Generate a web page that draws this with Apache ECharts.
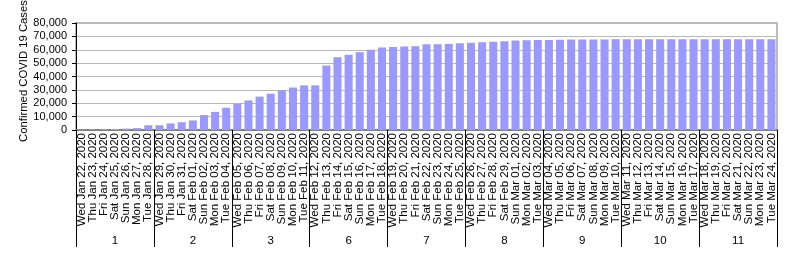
<!DOCTYPE html>
<html>
<head>
<meta charset="utf-8">
<script src="https://cdn.jsdelivr.net/npm/echarts@6/dist/echarts.min.js"></script>
<style>
html,body{margin:0;padding:0;background:#fff;}
#chart{width:800px;height:262px;}
</style>
</head>
<body>
<div id="chart"></div>
<script>
var dates = [
"Wed Jan 22, 2020","Thu Jan 23, 2020","Fri Jan 24, 2020","Sat Jan 25, 2020","Sun Jan 26, 2020","Mon Jan 27, 2020","Tue Jan 28, 2020",
"Wed Jan 29, 2020","Thu Jan 30, 2020","Fri Jan 31, 2020","Sat Feb 01, 2020","Sun Feb 02, 2020","Mon Feb 03, 2020","Tue Feb 04, 2020",
"Wed Feb 05, 2020","Thu Feb 06, 2020","Fri Feb 07, 2020","Sat Feb 08, 2020","Sun Feb 09, 2020","Mon Feb 10, 2020","Tue Feb 11, 2020",
"Wed Feb 12, 2020","Thu Feb 13, 2020","Fri Feb 14, 2020","Sat Feb 15, 2020","Sun Feb 16, 2020","Mon Feb 17, 2020","Tue Feb 18, 2020",
"Wed Feb 19, 2020","Thu Feb 20, 2020","Fri Feb 21, 2020","Sat Feb 22, 2020","Sun Feb 23, 2020","Mon Feb 24, 2020","Tue Feb 25, 2020",
"Wed Feb 26, 2020","Thu Feb 27, 2020","Fri Feb 28, 2020","Sat Feb 29, 2020","Sun Mar 01, 2020","Mon Mar 02, 2020","Tue Mar 03, 2020",
"Wed Mar 04, 2020","Thu Mar 05, 2020","Fri Mar 06, 2020","Sat Mar 07, 2020","Sun Mar 08, 2020","Mon Mar 09, 2020","Tue Mar 10, 2020",
"Wed Mar 11, 2020","Thu Mar 12, 2020","Fri Mar 13, 2020","Sat Mar 14, 2020","Sun Mar 15, 2020","Mon Mar 16, 2020","Tue Mar 17, 2020",
"Wed Mar 18, 2020","Thu Mar 19, 2020","Fri Mar 20, 2020","Sat Mar 21, 2020","Sun Mar 22, 2020","Mon Mar 23, 2020","Tue Mar 24, 2020"
];
var weeks = ["1","2","3","6","7","8","9","10","11"];
var cases = [
444,444,549,761,1058,1423,3554,
3554,4903,5806,7153,11177,13522,16678,
19665,22112,24953,27100,29631,31728,33366,
33366,48206,54406,56249,58182,59989,61682,
62031,62442,62662,64084,64084,64287,64786,
65187,65596,65914,66337,66907,67103,67217,
67332,67466,67592,67666,67707,67743,67760,
67773,67781,67786,67790,67794,67798,67799,
67800,67800,67800,67800,67800,67800,67801
];
var yTitle = "Confirmed COVID 19 Cases";

var FONT = "Liberation Sans, Arial, sans-serif";
var chart = echarts.init(document.getElementById('chart'), null, {renderer:'canvas'});
chart.setOption({
  animation:false,
  grid:{left:76,right:23,top:23,bottom:132,show:true,borderColor:'#A6A6A6',borderWidth:1.5,backgroundColor:'transparent'},
  graphic:[{
    type:'text', x:23.5, y:71, rotation:Math.PI/2,
    style:{text:yTitle, fontSize:11.3, fontFamily:FONT, fill:'#000', align:'center', verticalAlign:'middle'}
  }],
  xAxis:[{
    type:'category', data:dates, position:'bottom',
    axisLine:{show:true,lineStyle:{color:'#808080',width:2}},
    axisTick:{show:false},
    axisLabel:{interval:0,rotate:90,fontSize:11.5,fontFamily:FONT,color:'#000',margin:3},
    splitLine:{show:false}
  },{
    type:'category', data:weeks, position:'bottom',
    axisLine:{show:false},
    axisTick:{show:true,length:117,lineStyle:{color:'#000',width:1}},
    axisLabel:{interval:0,fontSize:11.5,fontFamily:FONT,color:'#000',margin:105},
    splitLine:{show:false}
  }],
  yAxis:{
    type:'value', min:0, max:80000, interval:10000,
    axisLine:{show:true,lineStyle:{color:'#000',width:1}},
    axisTick:{show:true,length:4,lineStyle:{color:'#000'}},
    axisLabel:{fontSize:11,fontFamily:FONT,color:'#000',margin:9,
      formatter:function(v){return v.toLocaleString('en-US');}},
    splitLine:{show:true,lineStyle:{color:'#B8B8B8',width:1}}
  },
  series:[{
    type:'bar', data:cases, xAxisIndex:0,
    itemStyle:{color:'#9999FF'},
    barCategoryGap:'28%'
  }]
});
</script>
</body>
</html>
